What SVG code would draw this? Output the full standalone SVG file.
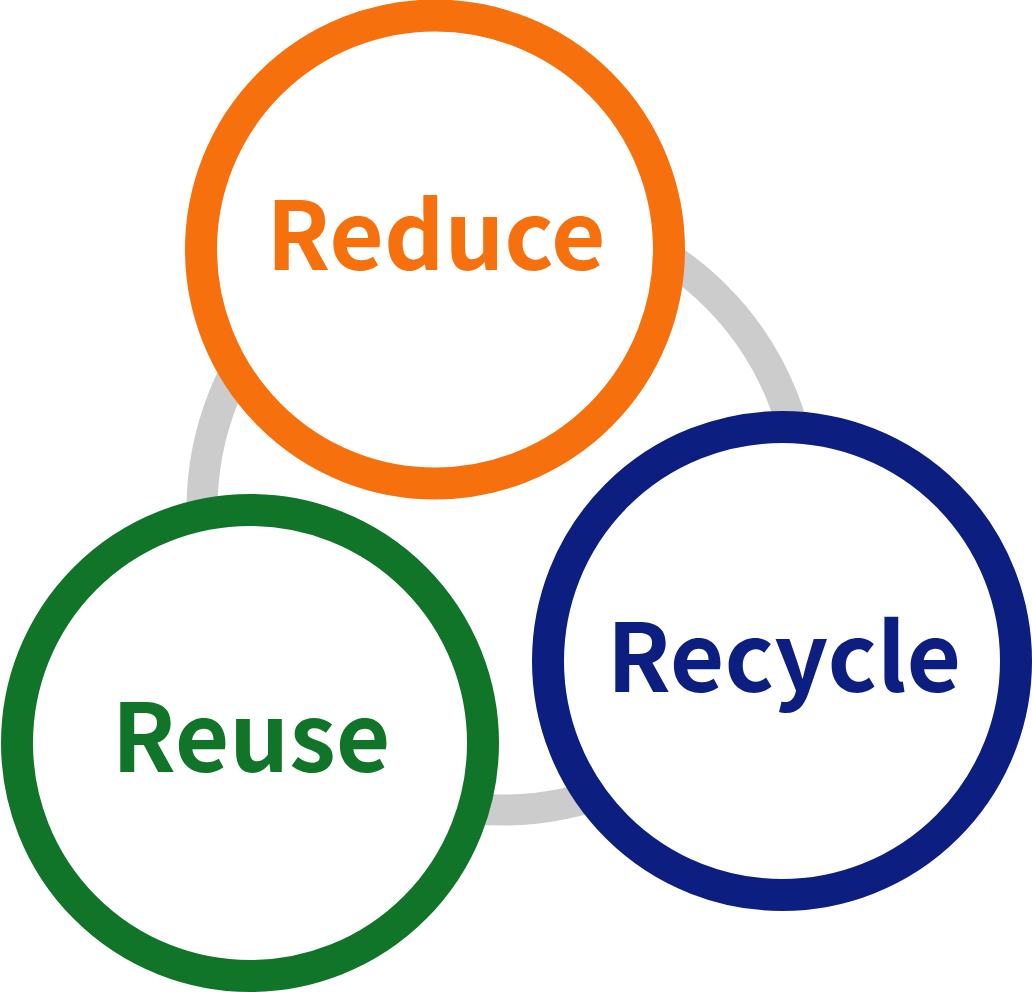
<svg xmlns="http://www.w3.org/2000/svg" width="1032" height="992" viewBox="0 0 1032 992">
<style>
.ring{fill:#ffffff;stroke-width:32}
.lbl{font-family:"Noto Sans CJK JP","Noto Sans",sans-serif;font-weight:700;font-size:94px;text-anchor:middle}
</style>
<rect width="1032" height="992" fill="#ffffff"/>
<g id="connectors">
<circle cx="503" cy="509" r="301" fill="none" stroke="#cccccc" stroke-width="31"/>
</g>
<g id="reduce">
<circle class="ring" cx="435" cy="249.5" r="234" stroke="#f7700e"/>
<text class="lbl" x="436" y="270" fill="#f7700e">Reduce</text>
</g>
<g id="reuse">
<circle class="ring" cx="250" cy="743" r="233" stroke="#117529"/>
<text class="lbl" x="251" y="772" fill="#117529">Reuse</text>
</g>
<g id="recycle">
<circle class="ring" cx="782" cy="661" r="234" stroke="#0c1e7f"/>
<text class="lbl" x="784" y="692" fill="#0c1e7f">Recycle</text>
</g>
</svg>
